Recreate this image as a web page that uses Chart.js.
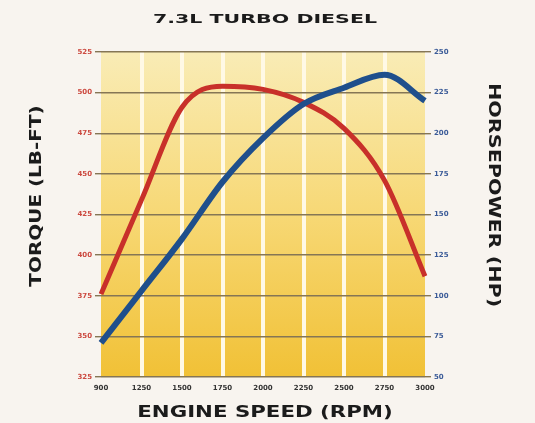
<!DOCTYPE html>
<html>
<head>
<meta charset="utf-8">
<script src="https://cdn.jsdelivr.net/npm/chart.js@4.4.1/dist/chart.umd.min.js"></script>
<style>
  html, body { margin: 0; padding: 0; background: #f8f4ef; }
  #wrap { width: 535px; height: 423px; }
</style>
</head>
<body>
<div id="wrap"><canvas id="myChart" width="535" height="423"></canvas></div>
<script>
var rpmLabels = ["900", "1250", "1500", "1750", "2000", "2250", "2500", "2750", "3000"];
var torqueValues = [376, 434, 491, 504, 502, 494, 478, 446, 387];
var hpValues = [71, 103, 135, 170, 197, 218, 228, 236, 220];
var torqueTicks = [325, 350, 375, 400, 425, 450, 475, 500, 525];
var hpTicks = [50, 75, 100, 125, 150, 175, 200, 225, 250];

// yellow gradient behind the plot + stretched bold titles
var paperPlugin = {
  id: "paper",
  beforeDraw: function (chart) {
    var ctx = chart.ctx, a = chart.chartArea;
    var g = ctx.createLinearGradient(0, a.top, 0, a.bottom);
    g.addColorStop(0, "#f9ecb6");
    g.addColorStop(0.5, "#f7d875");
    g.addColorStop(1, "#f1c136");
    ctx.save();
    ctx.fillStyle = g;
    ctx.fillRect(a.left, a.top, a.right - a.left, a.bottom - a.top);
    ctx.restore();
  },
  afterDraw: function (chart) {
    var ctx = chart.ctx;
    function txt(s, x, y, rot, size, sx) {
      ctx.save();
      ctx.translate(x, y);
      ctx.rotate(rot);
      ctx.scale(sx, 1);
      ctx.font = "bold " + size + "px 'DejaVu Sans'";
      ctx.fillStyle = "#1b1b1b";
      ctx.textAlign = "center";
      ctx.textBaseline = "middle";
      ctx.fillText(s, 0, 0);
      ctx.restore();
    }
    txt("7.3L TURBO DIESEL", 265, 20, 0, 13, 1.58);
    txt("ENGINE SPEED (RPM)", 265, 413, 0, 15, 1.42);
    txt("TORQUE (LB-FT)", 37, 196, -Math.PI / 2, 15, 1.33);
    txt("HORSEPOWER (HP)", 493, 195, Math.PI / 2, 15, 1.38);
  }
};

new Chart("myChart", {
  type: "line",
  data: {
    labels: rpmLabels,
    datasets: [{
      label: "Horsepower",
      data: hpValues,
      yAxisID: "yHp",
      borderColor: "#1f4f8c",
      borderWidth: 6,
      pointRadius: 0,
      cubicInterpolationMode: "monotone"
    }, {
      label: "Torque",
      data: torqueValues,
      yAxisID: "yTq",
      borderColor: "#c8302a",
      borderWidth: 5,
      pointRadius: 0,
      cubicInterpolationMode: "monotone"
    }]
  },
  plugins: [paperPlugin],
  options: {
    responsive: false,
    animation: false,
    layout: { padding: { top: 52, bottom: 0, left: 0, right: 0 } },
    plugins: {
      legend: { display: false },
      title: { display: false },
      tooltip: { enabled: false }
    },
    scales: {
      x: {
        offset: false,
        grid: {
          color: function (c) {
            return (c.index === 0 || c.index === rpmLabels.length - 1) ? "rgba(0,0,0,0)" : "#fff9e6";
          },
          lineWidth: 4,
          drawTicks: false
        },
        border: { display: false },
        ticks: {
          padding: 7,
          maxRotation: 0,
          autoSkip: false,
          color: "#333",
          font: { family: "DejaVu Sans", size: 7, weight: "bold" }
        },
        afterFit: function (s) { s.height = 46; }
      },
      yTq: {
        position: "left",
        min: 325,
        max: 525,
        afterBuildTicks: function (s) { s.ticks = torqueTicks.map(function (v) { return { value: v }; }); },
        grid: { color: "#857655", lineWidth: 1.4, tickLength: 6 },
        border: { display: false },
        ticks: {
          padding: 3,
          color: "#cc4a40",
          font: { family: "DejaVu Sans", size: 7, weight: "bold" }
        },
        afterFit: function (s) { s.width = 101; }
      },
      yHp: {
        position: "right",
        min: 50,
        max: 250,
        afterBuildTicks: function (s) { s.ticks = hpTicks.map(function (v) { return { value: v }; }); },
        grid: { drawOnChartArea: false, color: "#857655", lineWidth: 1.4, tickLength: 6 },
        border: { display: false },
        ticks: {
          padding: 3,
          color: "#3b5b98",
          font: { family: "DejaVu Sans", size: 7, weight: "bold" }
        },
        afterFit: function (s) { s.width = 110; }
      }
    }
  }
});
</script>
</body>
</html>
